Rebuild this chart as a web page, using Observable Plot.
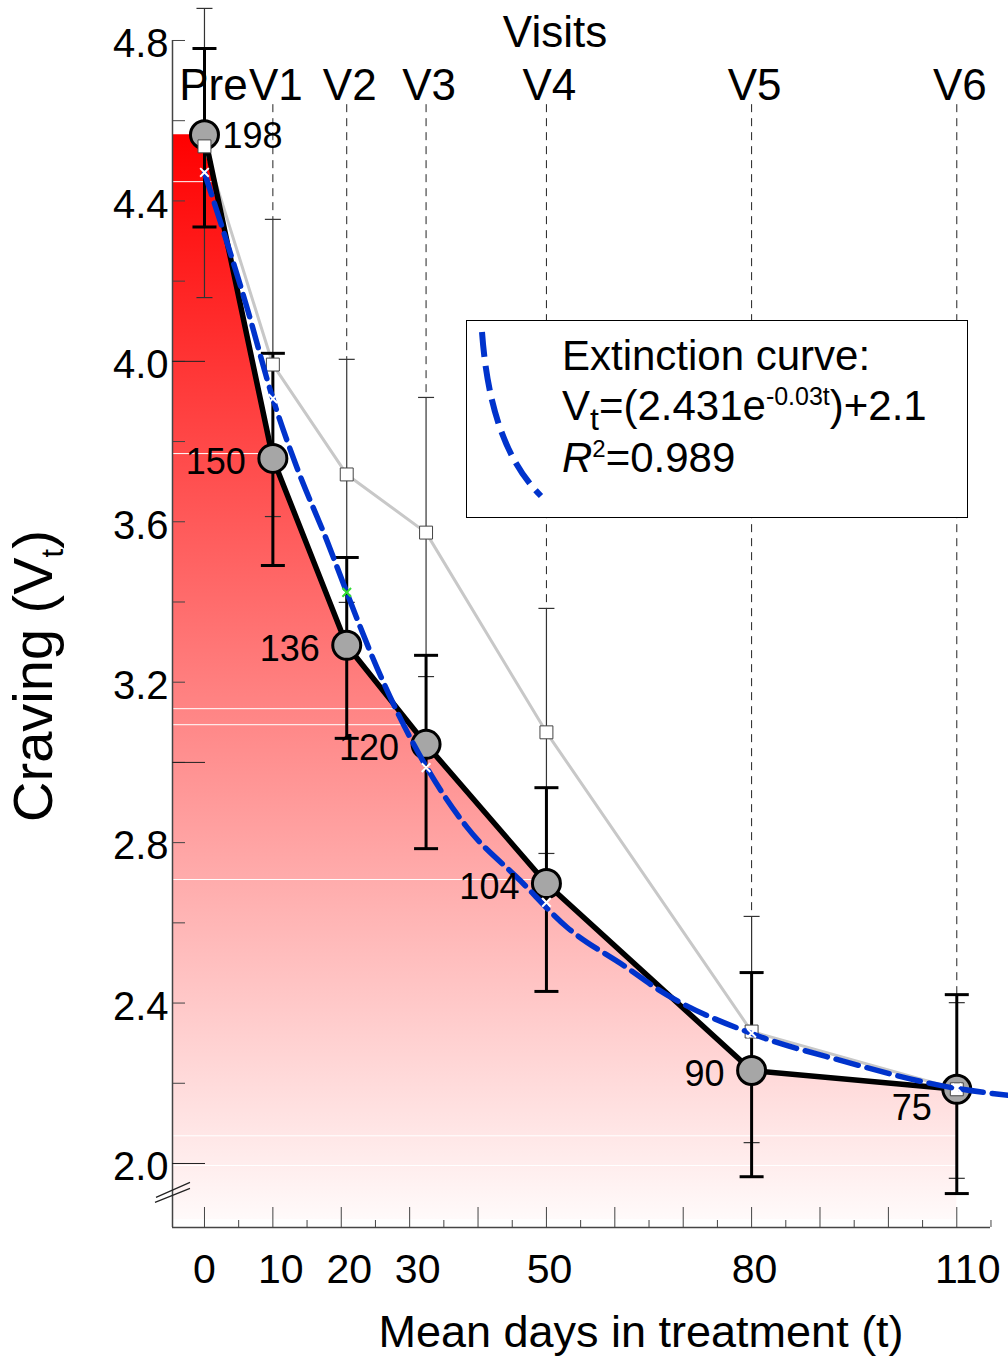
<!DOCTYPE html>
<html><head><meta charset="utf-8">
<script src="https://cdn.jsdelivr.net/npm/d3@7"></script>
<script src="https://cdn.jsdelivr.net/npm/@observablehq/plot@0.6"></script>
<style>
body{margin:0;background:#fff;}
#chart{position:relative;width:1008px;height:1359px;}
</style></head><body><div id="chart"></div>
<script>
// ---- data ----
const visits = ["Pre","V1","V2","V3","V4","V5","V6"];
const days = [0, 10, 20.8, 32.4, 50, 80, 110];
const nPatients = [198, 150, 136, 120, 104, 90, 75];
const craving = [4.565, 3.758, 3.292, 3.045, 2.698, 2.232, 2.185];
const cravingLo = [4.335, 3.491, 3.060, 2.785, 2.429, 1.967, 1.925];
const cravingHi = [4.780, 4.020, 3.511, 3.267, 2.937, 2.476, 2.421];
const other = [4.536, 3.992, 3.718, 3.573, 3.075, 2.329, 2.185];
const otherLo = [4.159, 3.613, 3.399, 3.214, 2.773, 2.052, 1.963];
const otherHi = [4.880, 4.354, 4.005, 3.910, 3.384, 2.616, 2.401];
const predicted = [4.471, 3.907, 3.424, 2.987, 2.651, 2.325, 2.188];
const predictedColor = ["white","white","#33dd33","white","white","white","white"];
const curveT = [0, 6.2, 10, 13.5, 17.9, 20.8, 25.2, 32.4, 38.4, 46.2, 53, 61.7, 66.6, 80, 93, 110, 117.5];
const curveV = [4.47, 4.135, 3.907, 3.736, 3.553, 3.424, 3.237, 2.99, 2.838, 2.705, 2.589, 2.489, 2.431, 2.324, 2.257, 2.187, 2.170];
const stripes = [4.448, 3.77, 3.134, 3.094, 2.708, 2.069, 1.995];
const xTickLabels = [0, 10, 20, 30, 50, 80, 110];
const xMajorTicks = [0, 10, 20, 30, 40, 50, 60, 70, 80, 90, 100, 110];
const xMinorTicks = [5, 15, 25, 35, 45, 55, 65, 75, 85, 95, 105, 115];
const yTickLabels = [4.8, 4.4, 4.0, 3.6, 3.2, 2.8, 2.4, 2.0];
const yMinorTicks = [2.0, 2.2, 2.4, 2.6, 2.8, 3.0, 3.2, 3.4, 3.6, 3.8, 4.0, 4.2, 4.4, 4.6, 4.8];
const yMajorTicks = [2.0, 3.0, 4.0];

const xDomain = [-4.675, 114.93];
const yDomain = [1.8404, 4.8997];
const areaBase = 1.86;
const visitLineTop = 4.64;
const breakAt = 1.928;

const idx = visits.map((_, i) => i);
const areaRows = [{t: xDomain[0], v: craving[0]}, ...idx.map(i => ({t: days[i], v: craving[i]}))];
const curveRows = curveT.map((t, i) => ({t, v: curveV[i]}));

const hcap = {draw(ctx, size) { const w = Math.sqrt(size / Math.PI); ctx.moveTo(-w, 0); ctx.lineTo(w, 0); }};
const breakSym = {draw(ctx) { ctx.moveTo(-16.5, 5); ctx.lineTo(17.5, -10); ctx.moveTo(-17.5, 10); ctx.lineTo(17.5, -4); }};

const font = "'Liberation Sans', Arial, sans-serif";
const xLabelAxis = (ticks, dx) => Plot.axisX({ticks, tickSize: 0, tickPadding: 26, fontSize: 41, dx, label: null});

const plot = Plot.plot({
  width: 1008, height: 1359,
  marginLeft: 172, marginRight: 18, marginTop: 0, marginBottom: 132,
  style: {fontFamily: font, background: "white", overflow: "visible", color: "black"},
  x: {domain: xDomain, label: null},
  y: {domain: yDomain, label: null},
  marks: [
    Plot.areaY(areaRows, {x: "t", y1: areaBase, y2: "v", fill: "url(#redGrad)"}),
    Plot.ruleY(stripes, {y: d => d, stroke: "white", strokeWidth: 1}),
    Plot.ruleX(idx.slice(1), {x: i => days[i], y1: visitLineTop, y2: i => otherHi[i], stroke: "#222", strokeWidth: 1, strokeDasharray: "8,6"}),
    // axes
    Plot.ruleX([xDomain[0]], {y1: yDomain[0], y2: 4.8, stroke: "#444", strokeWidth: 1.5}),
    Plot.ruleY([yDomain[0]], {x1: xDomain[0], x2: xDomain[1], stroke: "#444", strokeWidth: 1.5}),
    Plot.axisY({ticks: yMinorTicks, tickSize: -13, tickFormat: () => "", stroke: "#444", label: null}),
    Plot.axisY({ticks: yMajorTicks, tickSize: -33, tickFormat: () => "", stroke: "#222", label: null}),
    Plot.axisY({ticks: yTickLabels, tickSize: 0, tickPadding: 4, fontSize: 40, dy: 4, tickFormat: d => d.toFixed(1), label: null}),
    Plot.axisX({ticks: xMinorTicks, tickSize: -7, tickFormat: () => "", stroke: "#444", label: null}),
    Plot.axisX({ticks: xMajorTicks, tickSize: -20, tickFormat: () => "", stroke: "#444", label: null}),
    xLabelAxis(xTickLabels.slice(0, 1), 0),
    xLabelAxis(xTickLabels.slice(1, 4), 8),
    xLabelAxis(xTickLabels.slice(4, 6), 3),
    xLabelAxis(xTickLabels.slice(6), 11),
    Plot.dot([breakAt], {x: xDomain[0], y: d => d, symbol: breakSym, stroke: "#222", fill: "none", strokeWidth: 1.2}),
    // thin (second series) error bars
    Plot.ruleX(idx, {x: i => days[i], y1: i => otherLo[i], y2: i => otherHi[i], stroke: "#333", strokeWidth: 1.2}),
    Plot.dot(idx, {x: i => days[i], y: i => otherHi[i], symbol: hcap, r: 8, stroke: "#333", fill: "none", strokeWidth: 1.2}),
    Plot.dot(idx, {x: i => days[i], y: i => otherLo[i], symbol: hcap, r: 8, stroke: "#333", fill: "none", strokeWidth: 1.2}),
    Plot.line(idx, {x: i => days[i], y: i => other[i], stroke: "#c8c8c8", strokeWidth: 3}),
    // thick (craving) series
    Plot.line(idx, {x: i => days[i], y: i => craving[i], stroke: "black", strokeWidth: 5.5, strokeLinejoin: "round"}),
    Plot.ruleX(idx, {x: i => days[i], y1: i => cravingLo[i], y2: i => cravingHi[i], stroke: "black", strokeWidth: 3}),
    Plot.dot(idx, {x: i => days[i], y: i => cravingHi[i], symbol: hcap, r: 12, stroke: "black", fill: "none", strokeWidth: 3}),
    Plot.dot(idx, {x: i => days[i], y: i => cravingLo[i], symbol: hcap, r: 12, stroke: "black", fill: "none", strokeWidth: 3}),
    Plot.dot(idx, {x: i => days[i], y: i => craving[i], r: 14, fill: "#a6a6a6", stroke: "black", strokeWidth: 3}),
    Plot.dot(idx, {x: i => days[i], y: i => other[i], symbol: "square", r: 7.3, fill: "white", stroke: "#444", strokeWidth: 1}),
    // fitted extinction curve
    Plot.line(curveRows, {x: "t", y: "v", curve: "monotone-x", stroke: "#0033cc", strokeWidth: 5.5, strokeDasharray: "23,9"}),
    Plot.dot(idx, {x: i => days[i], y: i => predicted[i], symbol: "times", r: 4, stroke: i => predictedColor[i], strokeWidth: 2}),
    // n labels
    Plot.text([0], {x: i => days[i], y: i => craving[i], text: i => String(nPatients[i]), textAnchor: "start", dx: 18, dy: 2, fontSize: 36}),
    Plot.text([1, 2, 3, 4, 5], {x: i => days[i], y: i => craving[i], text: i => String(nPatients[i]), textAnchor: "end", dx: -27, dy: 4, fontSize: 36}),
    Plot.text([6], {x: i => days[i], y: i => craving[i], text: i => String(nPatients[i]), textAnchor: "end", dx: -25, dy: 19, fontSize: 36}),
    // visit labels
    Plot.text([0], {x: i => days[i], text: i => visits[i], frameAnchor: "top", lineAnchor: "top", dy: 68, dx: 9, fontSize: 44}),
    Plot.text(idx.slice(1), {x: i => days[i], text: i => visits[i], frameAnchor: "top", lineAnchor: "top", dy: 68, dx: 3, fontSize: 44})
  ]
});

const svg = d3.select(plot);
const defs = svg.insert("defs", ":first-child");
const g = defs.append("linearGradient").attr("id", "redGrad").attr("x1", 0).attr("y1", 0).attr("x2", 0).attr("y2", 1);
g.append("stop").attr("offset", 0).attr("stop-color", "#ff0000");
g.append("stop").attr("offset", 1).attr("stop-color", "#fffafa");

// titles
svg.append("text").attr("x", 555).attr("y", 47).attr("text-anchor", "middle").attr("font-size", 44).attr("font-family", font).text("Visits");
svg.append("text").attr("x", 641).attr("y", 1347).attr("text-anchor", "middle").attr("font-size", 45).attr("font-family", font).text("Mean days in treatment (t)");
const yt = svg.append("text").attr("transform", "translate(52,676) rotate(-90)").attr("text-anchor", "middle").attr("font-size", 56).attr("font-family", font);
yt.append("tspan").text("Craving (V");
yt.append("tspan").attr("font-size", 31).attr("dy", 11).text("t");
yt.append("tspan").attr("dy", -11).text(")");

// legend
const lg = svg.append("g").attr("text-anchor", "start");
lg.append("rect").attr("x", 466.5).attr("y", 320.5).attr("width", 501).attr("height", 197).attr("fill", "white").attr("stroke", "black").attr("stroke-width", 1);
lg.append("path").attr("d", "M482,332 C487,400 503,458 541,496").attr("fill", "none").attr("stroke", "#0033cc").attr("stroke-width", 6).attr("stroke-dasharray", "25,9");
lg.append("text").attr("x", 562).attr("y", 370).attr("text-anchor", "start").attr("font-size", 42).attr("font-family", font).text("Extinction curve:");
const l2 = lg.append("text").attr("x", 562).attr("y", 420).attr("text-anchor", "start").attr("font-size", 42).attr("font-family", font);
l2.append("tspan").text("V");
l2.append("tspan").attr("font-size", 32).attr("dy", 10).text("t");
l2.append("tspan").attr("dy", -10).text("=(2.431e");
l2.append("tspan").attr("font-size", 25).attr("dy", -15).text("-0.03t");
l2.append("tspan").attr("dy", 15).text(")+2.1");
const l3 = lg.append("text").attr("x", 562).attr("y", 472).attr("text-anchor", "start").attr("font-size", 42).attr("font-family", font);
l3.append("tspan").attr("font-style", "italic").text("R");
l3.append("tspan").attr("font-size", 24).attr("dy", -15).text("2");
l3.append("tspan").attr("dy", 15).text("=0.989");

document.getElementById("chart").appendChild(plot);
</script>
</body></html>
